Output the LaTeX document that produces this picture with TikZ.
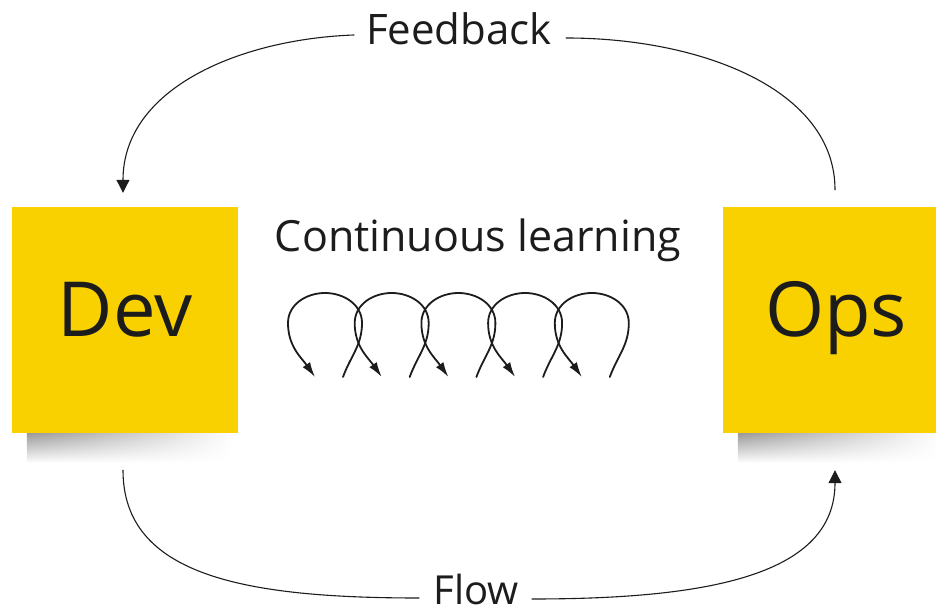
\documentclass[tikz,border=0pt]{standalone}
\usepackage{fontspec}
\setmainfont{Open Sans}
\usetikzlibrary{arrows.meta,fadings}

\definecolor{noteyellow}{RGB}{250,209,0}
\definecolor{inkgray}{RGB}{28,28,28}

\tikzset{
  note/.style={fill=noteyellow, minimum width=226pt, minimum height=226pt,
    inner sep=0pt, text height=54pt, text depth=20pt,
    font=\fontsize{76}{80}\selectfont, text=inkgray},
  caption/.style={anchor=base, inner sep=0pt, text=inkgray},
  bigcurve/.style={line width=1.1pt, draw=inkgray},
  loopline/.style={line width=1.8pt, draw=inkgray,
    -{Latex[length=15pt,width=9pt]}},
  notetip/.style={-{Triangle[length=13pt,width=13pt]}}
}

\begin{document}
\begin{tikzpicture}[x=1pt,y=1pt,line cap=round,line join=round]
  \useasboundingbox (0,0) rectangle (936,613);
  % shadows under the sticky notes
  \shade[top color=black!40, bottom color=white, path fading=east] (27,150) rectangle (234,180);
  \shade[top color=black!40, bottom color=white, path fading=east] (738,150) rectangle (940,180);
  % sticky notes
  \node[note] (dev) at (125,293) {Dev};
  \node[note] (ops) at (836,293) {Ops};
  % labels
  \node[caption, font=\fontsize{42}{46}\selectfont] (feedback) at (459,568) {Feedback};
  \node[caption, font=\fontsize{40}{44}\selectfont] (flow) at (476,9) {Flow};
  \node[caption, font=\fontsize{43}{47}\selectfont] (learning) at (478,361) {Continuous learning};
  % ends of the two big arrows
  \coordinate (devtop) at ([xshift=-2pt,yshift=14pt]dev.north);
  \coordinate (devbot) at ([xshift=-2pt,yshift=-37pt]dev.south);
  \coordinate (opstop) at ([xshift=-1pt,yshift=17pt]ops.north);
  \coordinate (opsbot) at ([xshift=-1pt,yshift=-37pt]ops.south);
  % feedback: ops -> dev
  \draw[bigcurve] (opstop) .. controls ([yshift=100pt]opstop) and ([xshift=150pt,yshift=7pt]feedback.base east) .. ([xshift=14pt,yshift=7pt]feedback.base east);
  \draw[bigcurve,notetip] ([xshift=-12pt,yshift=10pt]feedback.base west) .. controls ([xshift=-125pt,yshift=6pt]feedback.base west) and ([yshift=105pt]devtop) .. (devtop);
  % flow: dev -> ops
  \draw[bigcurve] (devbot) .. controls ([yshift=-105pt]devbot) and ([xshift=-190pt,yshift=6pt]flow.base west) .. ([xshift=-14pt,yshift=6pt]flow.base west);
  \draw[bigcurve,notetip] ([xshift=13pt,yshift=5pt]flow.base east) .. controls ([xshift=190pt,yshift=5pt]flow.base east) and ([yshift=-105pt]opsbot) .. (opsbot);
  % the little loops
  \foreach \i in {0,...,4}
    \draw[loopline, xshift=\i*66.7pt] (343,236) to[out=70,in=-90] (362,290)
      to[out=90,in=0] (325,320) to[out=180,in=90] (288,290) to[out=-90,in=125] (315,236);
\end{tikzpicture}
\end{document}
